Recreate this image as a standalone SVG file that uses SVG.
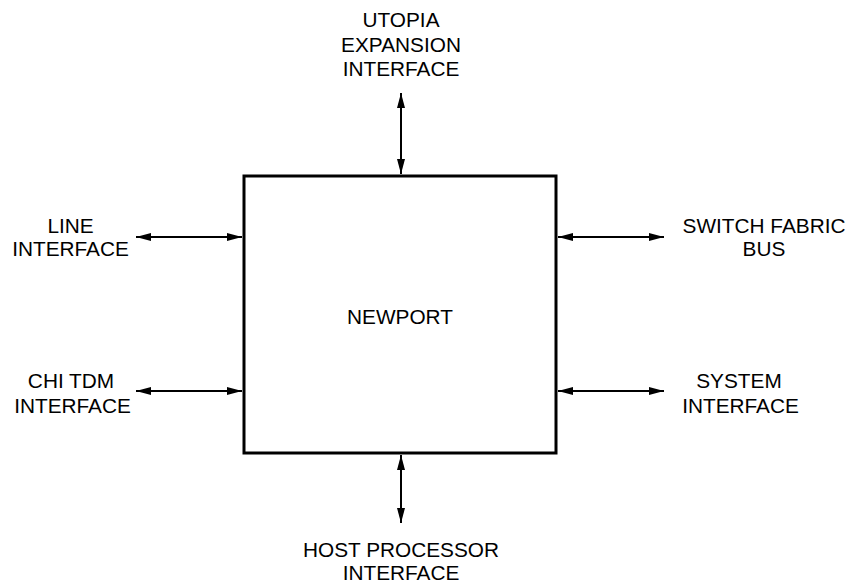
<svg xmlns="http://www.w3.org/2000/svg" width="850" height="583" viewBox="0 0 850 583">
<style>
text{font-family:"Liberation Sans",Arial,sans-serif;font-size:20.8px;fill:#000;text-anchor:middle}
.c{stroke:#000;stroke-width:2;fill:none}
</style>
<defs>
<marker id="a" viewBox="0 0 15 8" refX="15" refY="4" markerWidth="15" markerHeight="8" markerUnits="userSpaceOnUse" orient="auto-start-reverse">
<path d="M0,0 L15,4 L0,8 Z" fill="#000"/>
</marker>
</defs>
<rect width="850" height="583" fill="#fff"/>
<g id="newport">
<rect x="244" y="176" width="312" height="277" fill="#fff" stroke="#000" stroke-width="3"/>
<text x="400" y="324">NEWPORT</text>
</g>
<g id="utopia"><text x="401" y="27">UTOPIA</text><text x="401" y="52">EXPANSION</text><text x="401" y="76">INTERFACE</text></g>
<g id="line"><text x="70.5" y="233">LINE</text><text x="70.5" y="256">INTERFACE</text></g>
<g id="chi"><text x="71" y="388">CHI TDM</text><text x="72.5" y="413">INTERFACE</text></g>
<g id="switch"><text x="764" y="233">SWITCH FABRIC</text><text x="764" y="256">BUS</text></g>
<g id="system"><text x="739" y="388">SYSTEM</text><text x="740.5" y="413">INTERFACE</text></g>
<g id="host"><text x="401" y="557">HOST PROCESSOR</text><text x="401" y="580">INTERFACE</text></g>
<g id="connectors">
<line class="c" x1="401" y1="93" x2="401" y2="174" marker-start="url(#a)" marker-end="url(#a)"/>
<line class="c" x1="401" y1="455" x2="401" y2="523" marker-start="url(#a)" marker-end="url(#a)"/>
<line class="c" x1="136" y1="237" x2="242" y2="237" marker-start="url(#a)" marker-end="url(#a)"/>
<line class="c" x1="136" y1="391" x2="242" y2="391" marker-start="url(#a)" marker-end="url(#a)"/>
<line class="c" x1="558" y1="237" x2="664" y2="237" marker-start="url(#a)" marker-end="url(#a)"/>
<line class="c" x1="558" y1="391" x2="664" y2="391" marker-start="url(#a)" marker-end="url(#a)"/>
</g>
</svg>
